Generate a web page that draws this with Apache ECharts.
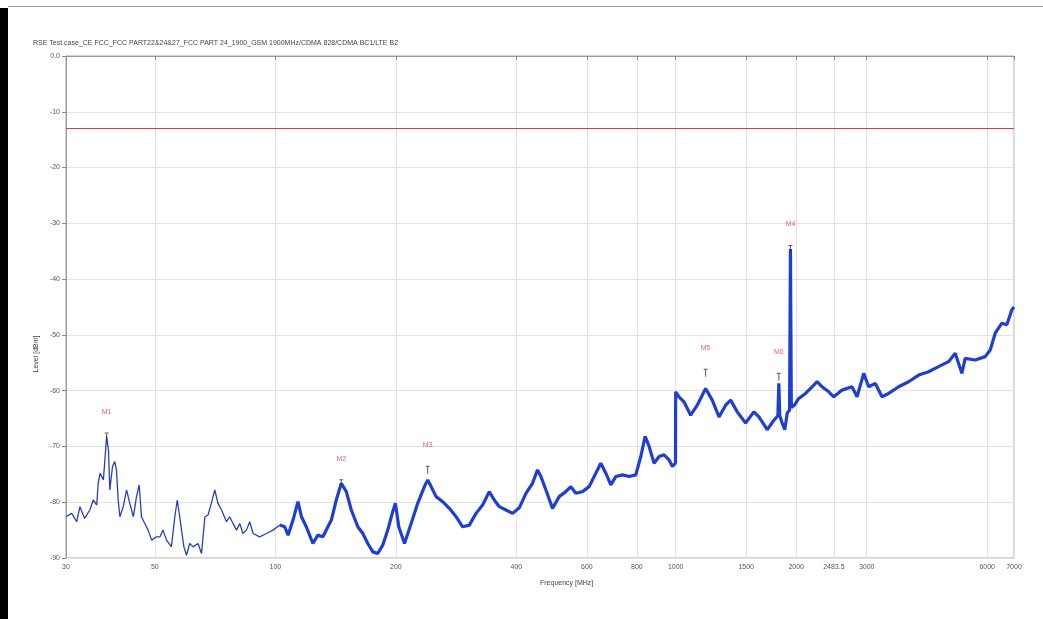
<!DOCTYPE html>
<html>
<head>
<meta charset="utf-8">
<script src="https://cdn.jsdelivr.net/npm/echarts@6/dist/echarts.min.js"></script>
<style>
  html, body { margin: 0; padding: 0; background: #fff; }
  #chart { width: 1043px; height: 619px; }
</style>
</head>
<body>
<div id="chart"></div>
<script>
// trace below ~100 MHz (thin line)
var thinFreq = [30, 31.0, 31.9, 32.5, 33.4, 34.4, 35.1, 35.8, 36.1, 36.5, 37.2, 37.9, 38.3, 38.6, 39.2, 39.7, 40.1, 40.5, 40.9, 41.7,
  42.5, 43.3, 44.2, 45.0, 45.7, 46.3, 47.2, 48.1, 49.1, 50.5, 51.5, 52.4, 53.5, 55.0, 56.1, 56.9, 57.7, 59.1, 60.0, 61.1,
  62.3, 64.1, 65.4, 66.7, 67.9, 69.2, 70.6, 71.9, 73.4, 75.5, 76.9, 78.4, 80.0, 81.5, 83.0, 84.7, 86.3, 88.0, 91.4, 95.0,
  98.7, 102.6];
var thinLevel = [-82.6, -82.0, -83.5, -80.8, -82.9, -81.4, -79.6, -80.5, -76.6, -74.8, -76.0, -68.2, -70.6, -77.8, -73.6, -72.7, -74.2, -79.6, -82.6, -80.8,
  -77.8, -80.2, -82.6, -79.0, -76.9, -82.6, -83.8, -85.0, -86.8, -86.2, -86.2, -85.0, -86.8, -88.0, -82.6, -79.6, -82.6, -88.0, -89.5, -87.4,
  -88.0, -87.4, -89.2, -82.6, -82.3, -80.2, -77.8, -80.2, -81.4, -83.5, -82.6, -83.8, -85.0, -83.8, -85.6, -85.0, -83.5, -85.6, -86.2, -85.6,
  -85.0, -84.1];

// trace above ~100 MHz (dense band)
var bandFreq = [102.6, 105.5, 107.6, 110.7, 113.9, 116.2, 119.5, 124.1, 127.7, 131.5, 135.3, 138.0, 142.0, 146.1, 150.4, 154.8, 160.7, 165.4, 170.2, 175.2,
  180.2, 185.5, 190.9, 196.4, 199.5, 203.4, 210.2, 218.4, 226.8, 235.7, 240.2, 245, 252.1, 261.8, 272.1, 282.8, 293.7, 305.2, 317.2, 329.5,
  342.3, 352.3, 362.6, 376.8, 391.5, 406.8, 422.7, 438.9, 451.7, 460.7, 474.2, 492.4, 511.7, 531.6, 547.1, 563.1, 585.1, 607.9, 631.7, 650.2,
  669.2, 688.6, 708.7, 736.1, 765.0, 795.0, 818.4, 838.9, 858.4, 883.3, 909.0, 935.5, 962.5, 981.1, 999, 1000, 1019, 1049, 1090, 1132,
  1188, 1234, 1283, 1333, 1372, 1425, 1495, 1568, 1614, 1693, 1759, 1800, 1810, 1820, 1845, 1873, 1900, 1925, 1935, 1945,
  1980, 2030, 2110, 2192, 2256, 2321, 2412, 2483, 2604, 2757, 2838, 2949, 3035, 3153, 3276, 3404, 3606, 3818, 4045, 4283,
  4537, 4805, 4993, 5186, 5287, 5599, 5931, 6105, 6283, 6528, 6718, 6915, 7000];
var bandLevel = [-84.1, -84.4, -85.9, -83.2, -79.9, -82.6, -84.4, -87.4, -85.9, -86.2, -84.4, -83.2, -79.6, -76.6, -78.1, -81.4, -84.4, -85.6, -87.4, -88.9,
  -89.2, -87.7, -85.0, -81.7, -80.2, -84.4, -87.4, -83.8, -80.2, -77.2, -76.0, -77.2, -79.0, -79.9, -81.1, -82.6, -84.4, -84.1, -82.0, -80.5,
  -78.1, -79.6, -80.8, -81.4, -82.0, -81.0, -78.4, -76.6, -74.2, -75.4, -77.8, -81.1, -79.0, -78.1, -77.2, -78.4, -78.1, -77.2, -74.8, -73.0,
  -74.8, -76.9, -75.4, -75.1, -75.4, -75.1, -71.8, -68.2, -70.0, -73.0, -71.8, -71.5, -72.4, -73.6, -73.0, -60.2, -61.1, -62.0, -64.4, -62.6,
  -59.6, -61.7, -64.7, -62.6, -61.7, -63.8, -65.8, -63.8, -64.7, -67.0, -65.3, -64.5, -58.7, -64.5, -65.8, -67.0, -64.0, -63.5, -34.6, -63.0,
  -62.6, -61.4, -60.5, -59.3, -58.4, -59.3, -60.2, -61.1, -59.9, -59.3, -61.1, -56.9, -59.3, -58.7, -61.1, -60.5, -59.3, -58.4, -57.2, -56.6,
  -55.7, -54.8, -53.3, -56.9, -54.2, -54.5, -53.9, -52.7, -49.7, -47.9, -48.2, -45.5, -45.0];

var markerNames = ['M1', 'M2', 'M3', 'M4', 'M5', 'M6'];
var markerFreq = [37.9, 146.1, 240.2, 1935, 1188, 1810];
var markerLevel = [-68.2, -76.6, -74.2, -34.6, -56.8, -57.5];

var limitLevel = -13;
var freqTicks = [30, 50, 100, 200, 400, 600, 800, 1000, 1500, 2000, 2483.5, 3000, 6000, 7000];

var titleText = 'RSE Test case_CE FCC_FCC PART22&24&27_FCC PART 24_1900_GSM 1900MHz/CDMA 828/CDMA BC1/LTE B2';

function pairs(xs, ys) {
    var out = [];
    for (var i = 0; i < xs.length; i++) {
        out.push([xs[i], ys[i]]);
    }
    return out;
}

var chart = echarts.init(document.getElementById('chart'));
chart.setOption({
    animation: false,
    backgroundColor: '#fff',
    textStyle: { fontFamily: 'Liberation Sans, Arial, sans-serif' },
    graphic: [
        { type: 'rect', left: 0, top: 8, shape: { width: 8, height: 611 }, style: { fill: '#000' } },
        { type: 'rect', left: 8, top: 6, shape: { width: 1035, height: 1 }, style: { fill: '#999' } },
        { type: 'text', left: 33, top: 40, style: { text: titleText, fontSize: 7, fill: '#444' } },
        { type: 'text', left: 540, top: 580, style: { text: 'Frequency [MHz]', fontSize: 7, fill: '#444' } },
        { type: 'text', x: 36, y: 354, rotation: Math.PI / 2,
          style: { text: 'Level [dBm]', fontSize: 7, fill: '#444', align: 'center', verticalAlign: 'middle' } }
    ],
    grid: { left: 66, right: 29, top: 56, bottom: 61, show: true, borderColor: '#aaa', borderWidth: 1 },
    xAxis: {
        type: 'log',
        logBase: 10,
        min: 30,
        max: 7000,
        axisLine: { lineStyle: { color: '#999' } },
        axisTick: { customValues: freqTicks, length: 4, lineStyle: { color: '#888' } },
        axisLabel: {
            customValues: freqTicks,
            fontSize: 7,
            color: '#555',
            margin: 6,
            formatter: function (v) { return String(+(+v).toFixed(1)); }
        },
        splitLine: { show: true, lineStyle: { color: '#e2e2e2' } },
        minorSplitLine: { show: false }
    },
    yAxis: {
        type: 'value',
        min: -90,
        max: 0,
        interval: 10,
        axisLine: { show: true, lineStyle: { color: '#999' } },
        axisTick: { show: true, length: 4, lineStyle: { color: '#888' } },
        axisLabel: {
            fontSize: 7,
            color: '#555',
            margin: 6,
            formatter: function (v) { return v === 0 ? '0.0' : String(v); }
        },
        splitLine: { show: true, lineStyle: { color: '#e2e2e2' } }
    },
    series: [
        {
            name: 'limit',
            type: 'line',
            data: [[30, limitLevel], [7000, limitLevel]],
            showSymbol: false,
            lineStyle: { color: '#e23a3f', width: 1 },
            z: 3
        },
        {
            name: 'trace low',
            type: 'line',
            data: pairs(thinFreq, thinLevel),
            showSymbol: false,
            lineStyle: { color: '#2b3fb5', width: 1.3 },
            z: 4
        },
        {
            name: 'trace high',
            type: 'line',
            data: pairs(bandFreq, bandLevel),
            showSymbol: false,
            lineStyle: { color: '#1f3fd2', width: 3.2 },
            z: 4
        },
        {
            name: 'markers',
            type: 'scatter',
            data: markerFreq.map(function (f, i) {
                return { value: [f, markerLevel[i]], name: markerNames[i] };
            }),
            symbol: 'path://M1.5,0 h1 v8 h-1 Z M0,0 h4 v1 h-4 Z',
            symbolSize: [4, 8],
            itemStyle: { color: '#333' },
            label: {
                show: true,
                position: 'top',
                distance: 17,
                formatter: '{b}',
                fontSize: 7,
                color: '#e23a3f'
            },
            z: 5
        }
    ]
});
</script>
</body>
</html>
